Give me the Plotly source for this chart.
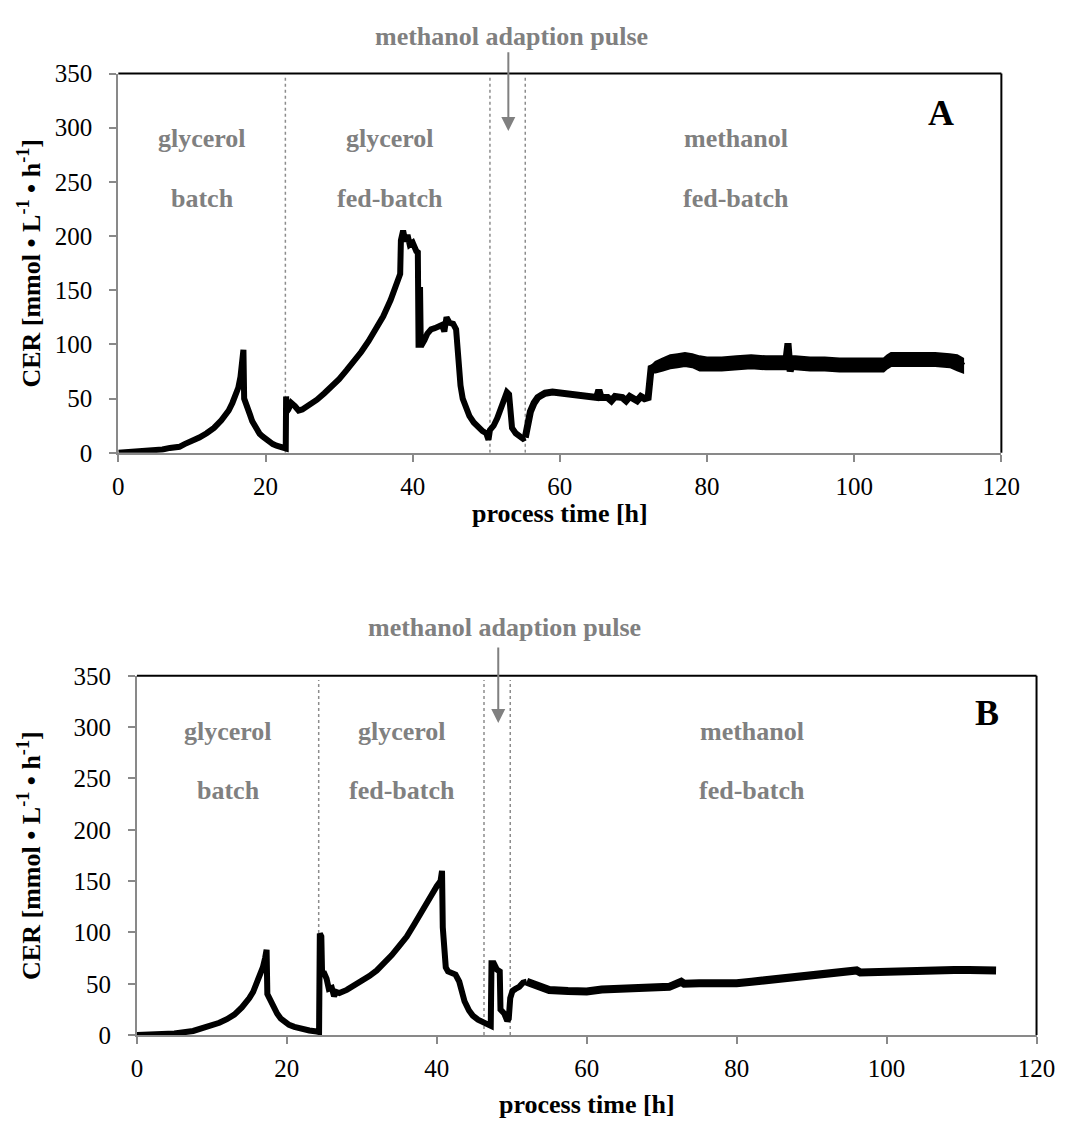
import numpy as np
import plotly.graph_objects as go

# ---------------- data ----------------
# Panel A: process time [h] and CER [mmol/L/h] (centre line)
a_time = [0, 2, 4, 6, 7, 8, 8.3, 9, 10, 11, 12, 13, 14, 14.5, 15, 15.5, 16, 16.3, 16.6, 16.8, 17.0,
          17.1, 17.3, 17.6, 17.9, 18.2, 18.5, 18.8, 19.2, 19.6, 20.0, 20.5, 21.0, 21.5, 22.0, 22.3, 22.5,
          22.7, 22.75, 22.8, 22.9, 23.1, 23.5, 24.0, 24.5, 25.0, 25.5, 26.0, 27.0, 28.0, 29.0, 30.0, 31.0,
          32.0, 33.0, 34.0, 35.0, 36.0, 37.0, 37.5, 38.0, 38.3, 38.4, 38.7, 39.0, 39.3, 39.6, 40.0, 40.5,
          40.7, 40.8, 41.0, 41.1, 41.3, 41.6, 42.0, 42.5, 43.0, 43.5, 44.0, 44.3, 44.6, 45.0, 45.5, 45.9,
          46.2, 46.5, 46.8, 47.2, 47.7, 48.3, 49.0, 49.5, 50.0, 50.3, 50.5, 51.0, 51.5, 52.0, 52.5, 52.8,
          53.1, 53.3, 53.5, 54.0, 54.5, 55.0, 55.3, 55.6, 56.0, 56.5, 57.0, 57.5, 58.0, 59.0, 60.0, 62.0,
          64.0, 65.0, 65.3, 65.6, 66.5, 67.0, 67.5, 68.5, 69.0, 69.5, 70.5, 71.0, 71.5, 72.0, 72.4, 73,
          74, 75, 76, 77, 78, 79, 80, 82, 84, 86, 88, 90, 90.7, 91.0, 91.3, 91.6, 92, 94, 96, 98, 100,
          102, 104, 104.5, 105, 107, 109, 111, 113, 114, 114.5, 114.8]
a_cer = [0, 0.7, 1.5, 3, 4.5, 6, 5.5, 8, 10.5, 14, 18, 23, 30, 34, 39, 46, 54, 60, 70, 79, 95,
         50, 45, 40, 35, 29, 25, 21, 17.5, 15, 12.5, 10, 8, 6.5, 5, 4.5, 4,
         3.5, 4, 52, 38, 40, 46, 43, 39, 40, 42, 44, 49, 55, 61, 68, 76,
         84, 93, 103, 114, 126, 141, 150, 158, 165, 196, 205, 195, 201, 192, 194, 186,
         185, 97, 153, 98, 102, 104, 110, 114, 115, 116, 118, 112, 125, 120, 119, 114,
         85, 62, 50, 41, 34, 28, 23, 20, 18, 12, 21, 25, 32, 43, 52, 56,
         54, 36, 23, 18, 15, 13, 14, 28, 38, 46, 51, 53, 55, 56, 55, 53,
         51, 51, 58, 51, 51, 48, 52, 51, 48, 52, 48, 52, 50, 51, 78, 80,
         82, 85, 86, 87, 86, 83, 82, 82, 83, 84, 83, 83, 84, 101, 75, 84, 83, 82, 82, 81, 81,
         81, 81, 84, 86, 86, 86, 86, 85, 84, 82, 80]

# Panel A: noisy methanol phase, upper / lower envelope
a_band_time = [72.4, 73, 74, 75, 76, 77, 78, 79, 80, 82, 84, 86, 88, 90, 92, 94, 96, 98, 100, 102,
               104, 104.5, 105, 107, 109, 111, 113, 114, 114.8]
a_band_hi = [80, 84, 87, 90, 91, 92, 91, 89, 88, 88, 89, 90, 89, 89, 89, 88, 88, 87, 87, 87,
             87, 90, 92, 92, 92, 92, 91, 90, 87]
a_band_lo = [74, 74, 76, 78, 79, 80, 79, 76, 76, 76, 77, 78, 77, 77, 77, 76, 76, 75, 75, 75,
             75, 78, 80, 80, 80, 80, 79, 76, 74]

# Panel B
b_time = [0, 2.5, 5, 7.5, 10, 11, 12, 13, 14, 14.5, 15, 15.5, 16, 16.5, 16.8, 17.1, 17.3, 17.4, 17.6,
          18.0, 18.3, 18.7, 19.2, 19.7, 20.3, 21.0, 22.0, 23.0, 24.0, 24.3, 24.4, 24.6, 24.7, 25.0, 25.3,
          25.6, 26.0, 26.3, 26.6, 27.0, 28.0, 29.0, 30.0, 31.0, 32.0, 33.0, 34.0, 35.0, 36.0, 37.0, 38.0,
          39.0, 40.0, 40.5, 40.7, 40.8, 41.2, 41.5, 42.0, 42.5, 43.0, 43.3, 43.7, 44.3, 44.8, 45.5, 46.0,
          47.0, 47.2, 47.3, 47.6, 48.0, 48.4, 48.5, 49.0, 49.4, 49.6, 49.8, 50.1, 50.5, 51.0, 51.5, 52.0,
          53.0, 55.0, 57.5, 60.0, 62.0, 64.0, 66.0, 67.7, 69.0, 71.0, 72.6, 73.0, 75.0, 78.0, 80.0, 82.0,
          84.0, 86.0, 88.0, 90.0, 91.0, 93.0, 95.4, 96.0, 96.5, 98.0, 100.0, 102.0, 104.0, 106.5, 109.0,
          111.0, 113.0, 114.6]
b_cer = [0, 0.5, 1.5, 4, 9, 12, 15.5, 20, 27, 31, 36, 42, 50, 59, 66, 75, 83, 40, 37,
         31, 26, 21, 16, 13, 10, 8, 6, 4.5, 3.5, 3, 99, 96, 60, 60, 55,
         45, 46, 38, 42, 41, 44, 48, 53, 57.5, 63, 70, 78, 87, 96, 108, 121,
         133, 145, 150, 160, 105, 66, 62, 60, 59, 52, 42, 33, 24, 19, 15, 13,
         10, 9, 70, 70, 64, 62, 25, 21, 14, 16, 36, 43, 45, 47, 51, 52,
         49, 44, 43, 42.5, 44.5, 45, 46, 45, 46.5, 47, 52, 50, 50.5, 50, 50.5, 52,
         53.5, 54.5, 55.5, 57, 59, 60, 61, 63, 61, 61.5, 62, 62, 62.5, 63, 63.5,
         63.5, 63.5, 63]

# phase boundaries (dotted lines) and pulse arrow position
a_bounds = [22.7, 50.5, 55.3]
b_bounds = [24.25, 46.3, 49.8]
a_pulse = 53.0
b_pulse = 48.2

x_ticks = [0, 20, 40, 60, 80, 100, 120]
y_ticks = [0, 50, 100, 150, 200, 250, 300, 350]

# ---------------- figure ----------------
W, H = 1078, 1135
FONT = "Liberation Serif"
GRAY_TXT = "#808080"
AX_GRAY = "#898989"

fig = go.Figure()


def add_segments(t, v, splits, widths, xa, ya):
    t = np.asarray(t, float)
    v = np.asarray(v, float)
    edges = [t.min()] + list(splits) + [t.max()]
    for i, w in enumerate(widths):
        m = (t >= edges[i]) & (t <= edges[i + 1])
        fig.add_trace(go.Scatter(x=t[m], y=v[m], mode="lines", xaxis=xa, yaxis=ya,
                                 line=dict(color="black", width=w, shape="linear"),
                                 hoverinfo="skip", showlegend=False))


# noisy band of panel A (filled envelope)
bt = list(a_band_time) + list(a_band_time)[::-1]
bv = list(a_band_hi) + list(a_band_lo)[::-1]
fig.add_trace(go.Scatter(x=bt, y=bv, mode="lines", fill="toself", fillcolor="black",
                         line=dict(color="black", width=2), xaxis="x", yaxis="y",
                         hoverinfo="skip", showlegend=False))

add_segments(a_time, a_cer, [55.3], [6, 7], "x", "y")
add_segments(b_time, b_cer, [52.0], [6, 8], "x2", "y2")

# domains in paper coordinates (pixel-derived)
A_dom_x = [115 / W, 1019 / W]
A_dom_y = [1 - 450.5 / H, 1 - 62 / H]
B_dom_x = [134 / W, 1055 / W]
B_dom_y = [1 - 1047 / H, 1 - 679 / H]

axis_common = dict(showgrid=False, zeroline=False, showline=True, linecolor=AX_GRAY, linewidth=2,
                   ticks="outside", tickcolor=AX_GRAY, ticklen=7, tickwidth=2,
                   tickfont=dict(family=FONT, size=25, color="black"))

fig.update_layout(
    width=W, height=H, margin=dict(l=0, r=0, t=0, b=0),
    paper_bgcolor="white", plot_bgcolor="rgba(0,0,0,0)", showlegend=False,
    xaxis=dict(domain=A_dom_x, range=[0, 120], tickvals=x_ticks, anchor="y",
               ticklabelstandoff=3, **axis_common),
    yaxis=dict(domain=A_dom_y, range=[0, 350], tickvals=y_ticks, anchor="x",
               ticklabelstandoff=12, **axis_common),
    xaxis2=dict(domain=B_dom_x, range=[0, 120], tickvals=x_ticks, anchor="y2",
                ticklabelstandoff=3, **axis_common),
    yaxis2=dict(domain=B_dom_y, range=[0, 350], tickvals=y_ticks, anchor="x2",
                ticklabelstandoff=12, **axis_common),
)

shapes = []
for xr, yr, bounds in (("x", "y", a_bounds), ("x2", "y2", b_bounds)):
    # black top/right frame
    shapes.append(dict(type="line", xref=f"{xr} domain", yref=f"{yr} domain", x0=0, x1=1, y0=1, y1=1,
                       line=dict(color="black", width=2), layer="above"))
    shapes.append(dict(type="line", xref=f"{xr} domain", yref=f"{yr} domain", x0=1, x1=1, y0=0, y1=1,
                       line=dict(color="black", width=2), layer="above"))
    for b in bounds:
        shapes.append(dict(type="line", xref=xr, yref=yr, x0=b, x1=b, y0=0, y1=346,
                           line=dict(color="#8c8c8c", width=1.5, dash="dot"), layer="below"))
fig.update_layout(shapes=shapes)

ann = []
lab_font = dict(family=FONT, size=26, color=GRAY_TXT)
ttl_font = dict(family=FONT, size=26, color="black")


def label(xr, yr, x, y, text, font=lab_font):
    ann.append(dict(xref=xr, yref=yr, x=x, y=y, text=text, showarrow=False, font=font,
                    xanchor="center", yanchor="middle"))


# Panel A labels
label("x", "y", 11.4, 290, "<b>glycerol</b>")
label("x", "y", 11.4, 235, "<b>batch</b>")
label("x", "y", 36.9, 290, "<b>glycerol</b>")
label("x", "y", 36.9, 235, "<b>fed-batch</b>")
label("x", "y", 83.9, 290, "<b>methanol</b>")
label("x", "y", 83.9, 235, "<b>fed-batch</b>")
label("x", "y", 111.8, 314, "<b>A</b>", dict(family=FONT, size=36, color="black"))
label("x", "y domain", 53.4, (450.5 - 24) / 388.5, "<b>methanol adaption pulse</b>")

# Panel B labels
label("x2", "y2", 12.2, 296, "<b>glycerol</b>")
label("x2", "y2", 12.2, 238, "<b>batch</b>")
label("x2", "y2", 35.3, 296, "<b>glycerol</b>")
label("x2", "y2", 35.3, 238, "<b>fed-batch</b>")
label("x2", "y2", 82.0, 296, "<b>methanol</b>")
label("x2", "y2", 82.0, 238, "<b>fed-batch</b>")
label("x2", "y2", 113.4, 314, "<b>B</b>", dict(family=FONT, size=36, color="black"))
label("x2", "y2 domain", 49.1, (1047 - 629) / 368, "<b>methanol adaption pulse</b>")

# pulse arrows
for xr, yr, px, tail, tip in (("x", "y", a_pulse, 371, 297), ("x2", "y2", b_pulse, 379, 304)):
    ann.append(dict(xref=xr, yref=yr, axref=xr, ayref=yr, x=px, y=tip, ax=px, ay=tail, text="",
                    showarrow=True, arrowhead=2, arrowsize=1.4, arrowwidth=2, arrowcolor="#808080"))

# axis titles
ytitle = "<b>CER [mmol • L<sup>-1</sup> • h<sup>-1</sup>]</b>"
for xr, yr, ypix in (("x", "y", 513), ("x2", "y2", 1118)):
    ann.append(dict(xref="paper", yref=f"{yr} domain", x=24 / W, y=0.5, text=ytitle, textangle=-90,
                    showarrow=False, font=ttl_font, xanchor="center", yanchor="middle"))
    ann.append(dict(xref=f"{xr} domain", yref="paper", x=0.5, y=1 - ypix / H, text="<b>process time [h]</b>",
                    showarrow=False, font=ttl_font, xanchor="center", yanchor="middle"))

fig.update_layout(annotations=ann)
fig.write_html("out.html")
